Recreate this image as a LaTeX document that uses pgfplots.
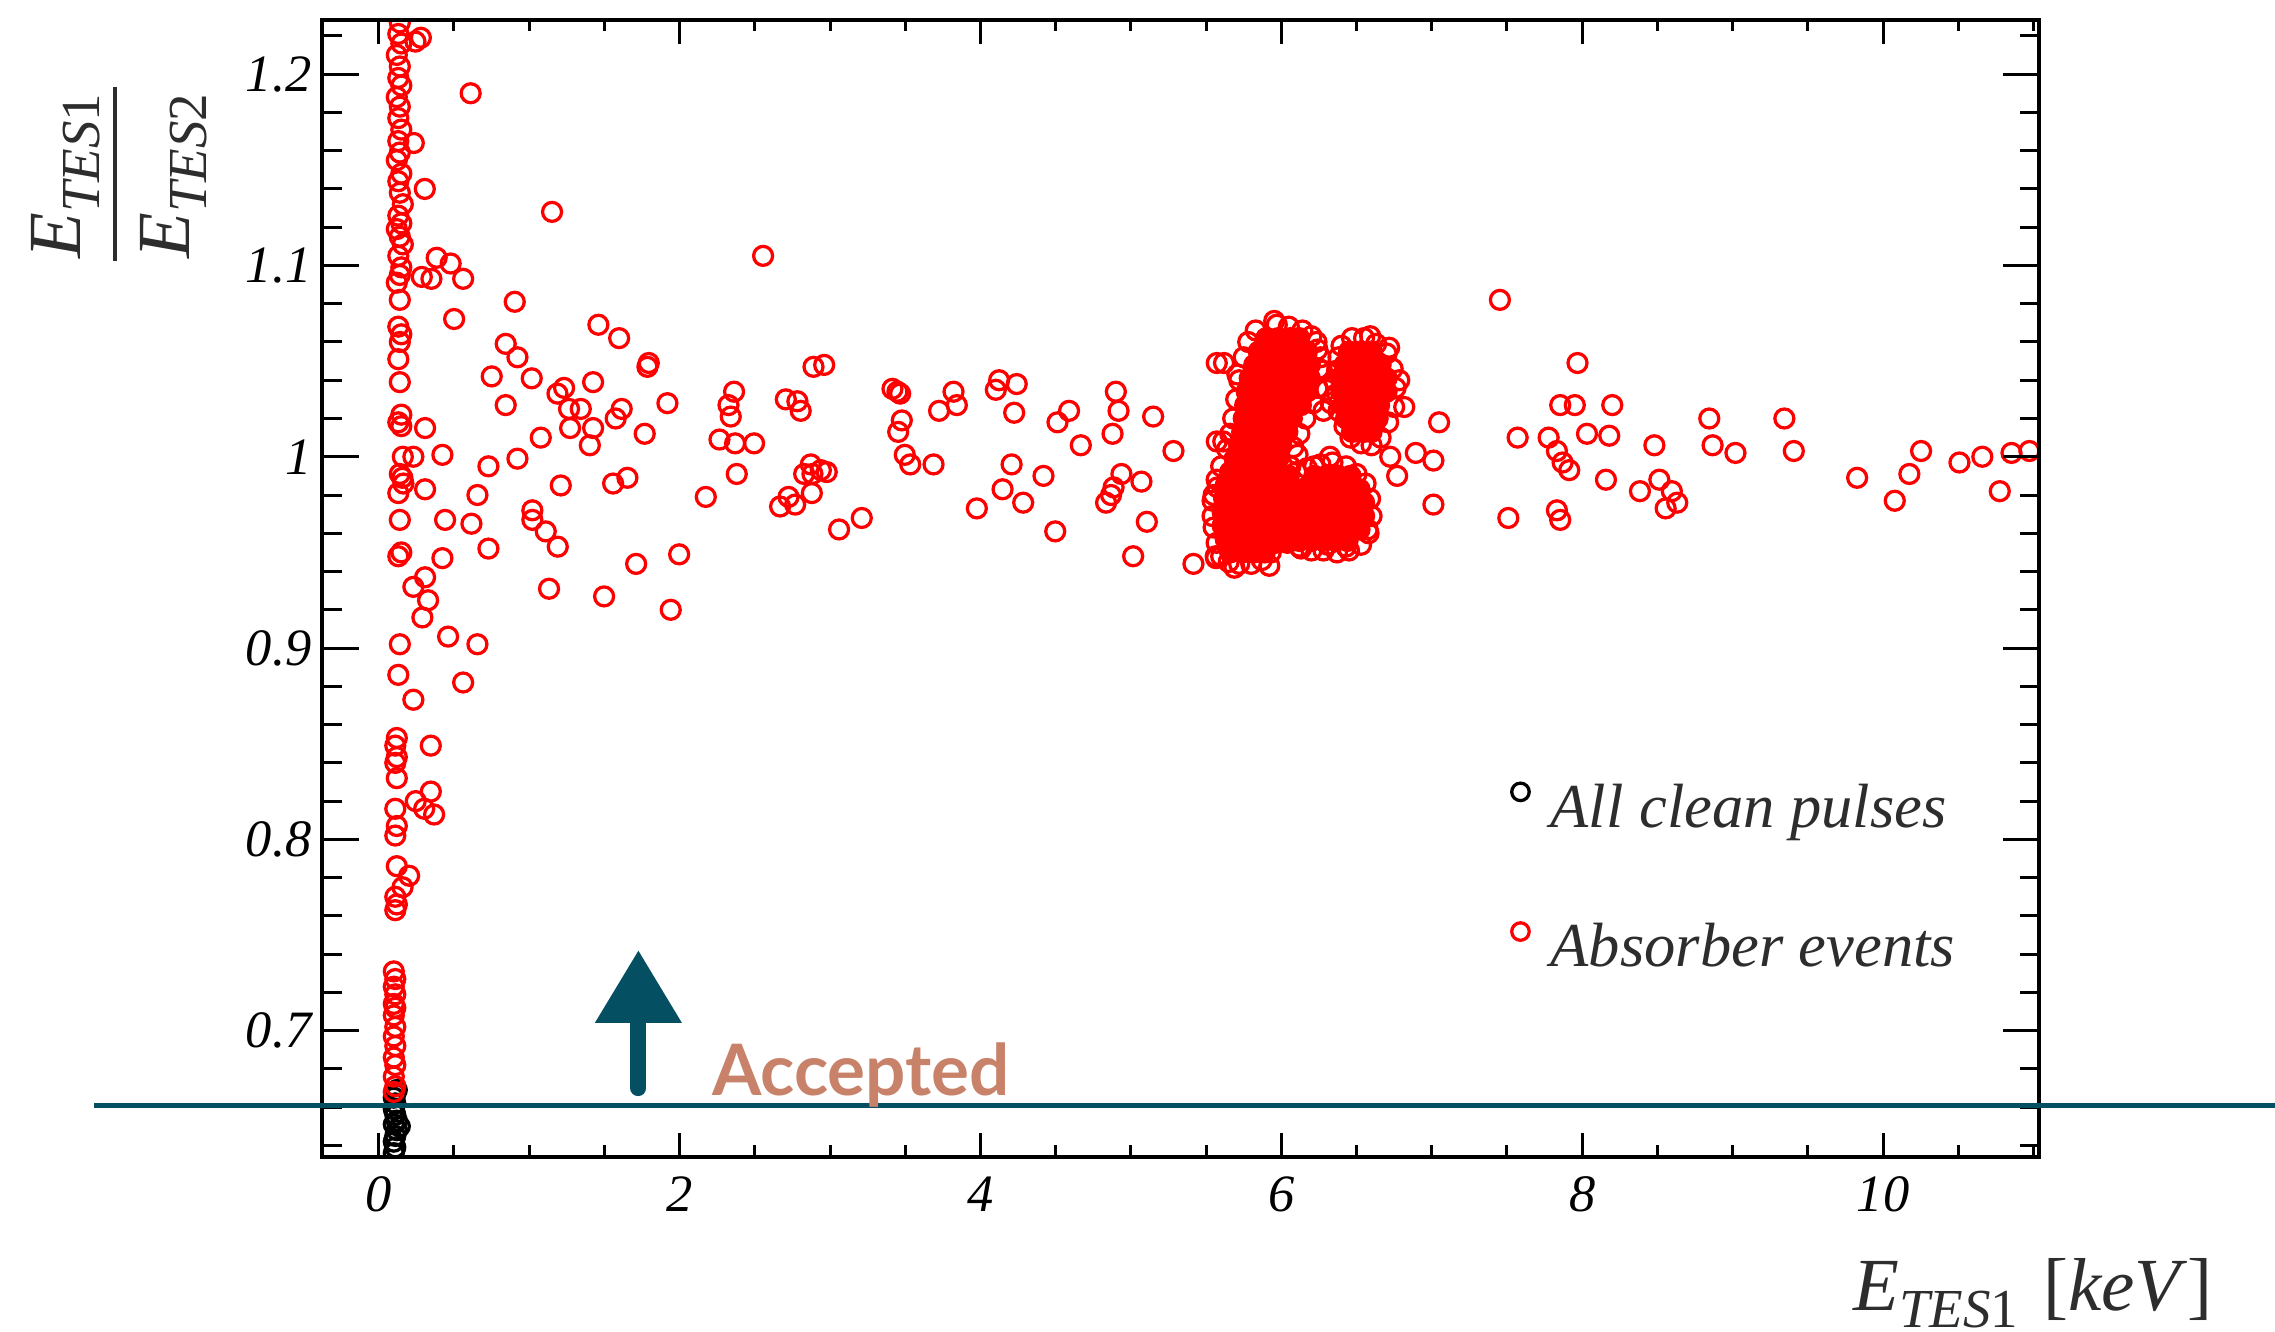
\documentclass[border=0pt]{standalone}
\usepackage{fontspec}
\setmainfont{Liberation Serif}
\newfontfamily\accfont{Lato}
\usepackage{pgfplots}
\pgfplotsset{compat=1.18}
\usetikzlibrary{arrows.meta}
\definecolor{tealline}{RGB}{4,79,98}
\definecolor{accclr}{RGB}{200,130,106}
\definecolor{labgray}{RGB}{45,45,45}
\begin{document}
\begin{tikzpicture}
\pgfplotsset{
  base/.style={
    scale only axis, width=343.3pt, height=227.4pt,
    xmin=-0.374, xmax=11.037, ymin=0.634, ymax=1.2283,
    at={(0,0)}, anchor=south west,
    axis line style={line width=0.8pt, black},
    tick align=inside, tick pos=both,
    every tick/.style={black, line width=0.6pt},
  }
}
\begin{axis}[base,
  xtick={0,2,4,6,8,10}, xticklabels={0,2,4,6,8,10},
  minor xtick={0.5,1,1.5,2.5,3,3.5,4.5,5,5.5,6.5,7,7.5,8.5,9,9.5,10.5,11},
  major tick length=4.8pt, minor tick length=2.3pt,
  ytick=\empty,
  xticklabel style={font=\fontsize{10.5}{12}\selectfont\itshape, inner sep=0pt, anchor=north, yshift=-3.7pt},
  clip marker paths=true,
  legend style={draw=none, fill=none, at={(axis cs:7.525,0.7794)}, anchor=west, inner sep=0pt,
    row sep=17.6pt, column sep=4.3pt, font=\fontsize{12.5}{15}\selectfont\itshape, text=labgray,
    nodes={inner sep=0pt}},
  legend cell align=left,
  legend image code/.code={\draw[mark repeat=1,mark phase=1,#1, mark size=1.75pt] plot coordinates {(0pt,3.5pt)};},
]
\addplot[only marks, mark=o, mark size=1.9pt, black, mark options={line width=0.65pt}] coordinates {
(0.10,0.636)(0.11,0.639)(0.10,0.642)(0.11,0.645)(0.12,0.648)(0.14,0.650)(0.10,0.651)(0.12,0.653)(0.11,0.656)(0.10,0.659)(0.11,0.662)(0.10,0.665)(0.11,0.667)(0.12,0.669)
};
\addlegendentry{All clean pulses}
\addplot[only marks, mark=*, mark size=1.9pt, red, mark options={fill=red, line width=0.65pt}, forget plot] coordinates {
(5.90,1.062)(5.98,1.062)(6.06,1.062)(6.12,1.062)
(5.85,1.055)(5.93,1.055)(6.01,1.055)(6.09,1.055)(6.17,1.055)
(5.82,1.048)(5.90,1.048)(5.98,1.048)(6.06,1.048)(6.14,1.048)(6.19,1.048)
(5.79,1.041)(5.87,1.041)(5.95,1.041)(6.03,1.041)(6.11,1.041)(6.19,1.041)
(5.77,1.034)(5.85,1.034)(5.93,1.034)(6.01,1.034)(6.09,1.034)(6.17,1.034)
(5.76,1.027)(5.84,1.027)(5.92,1.027)(6.00,1.027)(6.08,1.027)(6.13,1.027)
(5.75,1.020)(5.83,1.020)(5.91,1.020)(5.99,1.020)(6.07,1.020)
(5.74,1.013)(5.82,1.013)(5.90,1.013)(5.98,1.013)(6.04,1.013)
(5.72,1.006)(5.80,1.006)(5.88,1.006)(5.96,1.006)(6.00,1.006)
(5.69,0.999)(5.77,0.999)(5.85,0.999)(5.93,0.999)(5.98,0.999)
(5.66,0.992)(5.74,0.992)(5.82,0.992)(5.90,0.992)(5.97,0.992)
(5.63,0.985)(5.71,0.985)(5.79,0.985)(5.87,0.985)(5.95,0.985)
(5.62,0.978)(5.70,0.978)(5.78,0.978)(5.86,0.978)(5.94,0.978)
(5.61,0.971)(5.69,0.971)(5.77,0.971)(5.85,0.971)(5.93,0.971)
(5.61,0.964)(5.69,0.964)(5.77,0.964)(5.85,0.964)(5.92,0.964)
(5.63,0.957)(5.71,0.957)(5.79,0.957)(5.87,0.957)(5.91,0.957)
(5.66,0.950)(5.74,0.950)(5.82,0.950)(5.89,0.950)
(6.00,0.990)(6.05,0.990)(6.00,0.983)(6.06,0.983)(6.00,0.976)(6.05,0.976)(5.98,0.969)(5.98,0.962)(5.96,0.955)(6.04,0.955)
(6.45,1.055)(6.53,1.055)(6.60,1.055)
(6.42,1.048)(6.50,1.048)(6.58,1.048)(6.66,1.048)
(6.40,1.041)(6.48,1.041)(6.56,1.041)(6.64,1.041)(6.70,1.041)
(6.40,1.034)(6.48,1.034)(6.56,1.034)(6.64,1.034)(6.70,1.034)
(6.41,1.027)(6.49,1.027)(6.57,1.027)(6.65,1.027)
(6.43,1.020)(6.51,1.020)(6.59,1.020)(6.64,1.020)
(6.47,1.013)(6.55,1.013)(6.60,1.013)
(6.22,0.990)(6.30,0.990)(6.38,0.990)(6.46,0.990)
(6.14,0.983)(6.22,0.983)(6.30,0.983)(6.38,0.983)(6.46,0.983)(6.52,0.983)
(6.10,0.976)(6.18,0.976)(6.26,0.976)(6.34,0.976)(6.42,0.976)(6.50,0.976)(6.55,0.976)
(6.04,0.969)(6.08,0.969)(6.16,0.969)(6.24,0.969)(6.32,0.969)(6.40,0.969)(6.48,0.969)(6.55,0.969)
(6.02,0.962)(6.06,0.962)(6.14,0.962)(6.22,0.962)(6.30,0.962)(6.38,0.962)(6.46,0.962)(6.52,0.962)
(6.12,0.956)(6.20,0.956)(6.28,0.956)(6.36,0.956)(6.44,0.956)
};
\addplot[only marks, mark=o, mark size=1.9pt, red, mark options={line width=0.65pt}] coordinates {
(0.14,1.227)(0.13,1.221)(0.15,1.216)(0.12,1.210)(0.14,1.204)(0.13,1.198)(0.15,1.194)(0.12,1.188)(0.14,1.183)(0.13,1.177)(0.15,1.171)(0.13,1.165)(0.14,1.159)(0.12,1.155)(0.15,1.148)(0.13,1.144)(0.14,1.138)(0.16,1.132)(0.13,1.126)(0.15,1.122)(0.12,1.119)(0.14,1.115)(0.16,1.111)(0.13,1.105)(0.15,1.099)(0.14,1.095)(0.12,1.091)(0.14,1.082)(0.13,1.068)(0.15,1.064)(0.14,1.060)(0.13,1.051)(0.14,1.039)(0.15,1.022)(0.13,1.018)(0.14,0.991)(0.13,0.981)(0.14,0.967)(0.15,0.950)(0.13,0.948)(0.14,0.902)(0.13,0.886)(0.12,0.853)(0.11,0.849)(0.12,0.843)(0.11,0.840)(0.12,0.832)(0.11,0.816)(0.12,0.807)(0.11,0.802)(0.12,0.786)(0.11,0.770)(0.12,0.766)(0.11,0.763)(0.10,0.731)(0.11,0.727)(0.10,0.723)(0.11,0.719)(0.10,0.714)(0.11,0.712)(0.10,0.708)(0.11,0.702)(0.10,0.697)(0.11,0.692)(0.10,0.686)(0.11,0.682)(0.10,0.676)(0.11,0.671)(0.10,0.668)
(0.157,0.989)(0.164,0.986)(0.16,1.000)(0.15,1.016)
(0.244,1.217)(0.28,1.219)(0.611,1.19)(0.233,1.164)(0.306,1.140)(1.152,1.128)(2.555,1.105)(0.385,1.104)(0.478,1.101)(0.286,1.094)(0.350,1.093)(0.561,1.093)(0.904,1.081)(0.501,1.072)(1.460,1.069)(1.598,1.062)(1.786,1.047)(1.795,1.049)(0.844,1.059)(0.922,1.052)(0.751,1.042)(1.017,1.041)(1.425,1.039)(2.890,1.047)(2.961,1.048)(1.232,1.036)(1.188,1.033)(2.362,1.034)(1.919,1.028)(2.706,1.030)(2.783,1.029)(2.805,1.024)(2.325,1.027)(2.340,1.021)(0.844,1.027)(1.265,1.025)(1.343,1.025)(1.615,1.025)(1.575,1.020)(1.272,1.015)(1.425,1.015)(1.403,1.006)(1.768,1.012)(1.077,1.010)(0.308,1.015)(2.265,1.009)(2.369,1.007)(2.495,1.007)(0.230,1.000)(0.423,1.001)(0.922,0.999)(0.729,0.995)(2.380,0.991)(2.872,0.996)(2.939,0.993)(2.828,0.991)(2.883,0.991)(2.978,0.992)(0.308,0.983)(1.210,0.985)(1.558,0.986)(1.653,0.989)(0.656,0.980)(2.174,0.979)(2.879,0.981)(2.724,0.979)(2.668,0.974)(2.768,0.975)(1.021,0.972)(0.441,0.967)(0.616,0.965)(1.021,0.967)(1.110,0.961)(3.060,0.962)(1.190,0.953)(0.729,0.952)(0.423,0.947)(1.997,0.949)(1.711,0.944)(0.308,0.937)(0.230,0.932)(1.132,0.931)(1.498,0.927)(0.328,0.925)(1.941,0.920)(0.290,0.916)(0.461,0.906)(0.656,0.902)(0.561,0.882)(0.230,0.873)(0.346,0.849)(0.346,0.825)(0.246,0.820)(0.302,0.816)(0.368,0.813)(0.202,0.781)(0.158,0.775)
(3.211,0.968)(3.415,1.0355)(3.448,1.034)(3.466,1.033)(3.477,1.019)(3.453,1.013)(3.497,1.001)(3.533,0.996)(3.688,0.996)(3.725,1.024)(3.821,1.034)(3.843,1.027)(3.976,0.973)(4.124,1.040)(4.102,1.035)(4.241,1.038)(4.224,1.023)(4.207,0.996)(4.147,0.983)(4.284,0.976)(4.419,0.990)(4.497,0.961)(4.512,1.018)(4.589,1.024)(4.667,1.006)(4.900,1.034)(4.918,1.024)(4.878,1.012)(4.937,0.991)(5.070,0.987)(4.885,0.984)(4.868,0.980)(4.835,0.976)(5.106,0.966)(5.015,0.948)(5.148,1.021)(5.283,1.003)(5.416,0.944)(5.571,1.049)(5.571,1.008)(5.564,0.948)
(5.953,1.071)(5.619,1.049)(5.708,1.043)(5.614,1.008)(5.566,0.947)(5.688,0.942)(5.92,0.943)(5.576,0.984)(5.543,0.977)(5.543,0.969)(6.131,0.952)(6.142,0.957)(6.308,0.954)(6.43,0.953)(6.574,0.962)(6.323,1.0)(6.218,0.995)(6.108,1.001)(6.234,1.060)
(5.83,1.066)(5.78,1.060)(5.75,1.052)(5.72,1.040)(5.70,1.030)(5.68,1.020)(5.66,1.012)(5.64,1.004)(5.60,0.995)(5.57,0.988)(5.55,0.980)(5.55,0.963)(5.57,0.955)(5.60,0.948)(5.65,0.945)(5.72,0.944)(5.80,0.944)(5.87,0.946)(5.93,0.950)(5.97,0.958)(6.00,0.966)(6.03,0.975)(6.05,0.985)(6.06,0.995)(6.08,1.005)(6.12,1.012)(6.16,1.020)(6.21,1.028)(6.24,1.036)(6.25,1.046)(6.24,1.056)(6.20,1.063)(6.14,1.066)(6.05,1.068)(5.97,1.069)
(6.40,1.058)(6.47,1.062)(6.55,1.062)(6.63,1.059)(6.70,1.054)(6.74,1.046)(6.76,1.036)(6.75,1.026)(6.71,1.018)(6.66,1.010)(6.60,1.006)(6.53,1.007)(6.46,1.010)(6.42,1.016)(6.38,1.024)(6.37,1.033)(6.37,1.045)(6.38,1.052)
(6.10,0.992)(6.17,0.994)(6.26,0.996)(6.34,0.997)(6.43,0.995)(6.50,0.991)(6.56,0.986)(6.59,0.978)(6.60,0.969)(6.58,0.960)(6.53,0.954)(6.45,0.951)(6.37,0.950)(6.28,0.951)(6.20,0.951)(6.12,0.953)(6.06,0.957)(6.03,0.968)
(6.27,1.045)(6.30,1.035)(6.33,1.028)(6.28,1.024)(6.35,1.040)(6.26,1.052)
(7.049,1.018)(7.011,0.998)(6.894,1.002)(7.011,0.975)(6.77,0.990)(6.724,1.0)(6.817,1.026)(6.784,1.040)(6.717,1.057)(6.591,1.063)(7.453,1.082)(7.969,1.049)(7.854,1.027)(7.951,1.027)(8.2,1.027)(7.571,1.010)(7.777,1.010)(7.832,1.003)(7.870,0.997)(7.914,0.993)(8.032,1.012)(8.18,1.011)(8.158,0.988)(7.509,0.968)(7.832,0.972)(7.854,0.967)(8.384,0.982)(8.48,1.006)(8.513,0.988)(8.596,0.982)(8.632,0.976)(8.555,0.973)(8.845,1.020)(8.867,1.006)(9.019,1.002)(9.344,1.020)(9.407,1.003)(9.828,0.989)(10.078,0.977)(10.175,0.991)(10.253,1.003)(10.508,0.997)(10.66,1.0)(10.776,0.982)(10.854,1.002)(10.973,1.003)
};
\addlegendentry{Absorber events}
\end{axis}
\begin{axis}[base,
  xtick=\empty,
  ytick={0.7,0.8,0.9,1,1.1,1.2}, yticklabels={0.7,0.8,0.9,1,1.1,1.2},
  minor ytick={0.64,0.66,0.68,0.72,0.74,0.76,0.78,0.82,0.84,0.86,0.88,0.92,0.94,0.96,0.98,1.02,1.04,1.06,1.08,1.12,1.14,1.16,1.18,1.22},
  major tick length=7.3pt, minor tick length=3.9pt,
  yticklabel style={font=\fontsize{10.5}{12}\selectfont\itshape, inner sep=0pt, anchor=east, xshift=-2pt},
  clip=false,
]
\draw[tealline, line width=1.1pt] (axis cs:-1.891,0.6609) -- (axis cs:12.61,0.6609);
\draw[tealline, line width=3.2pt, line cap=round, -{Triangle[width=16.5pt,length=14.6pt]}] (axis cs:1.726,0.670) -- (axis cs:1.726,0.7422);
\node[anchor=base west, text=accclr, inner sep=0pt, font=\accfont\bfseries\fontsize{14.2}{16}\selectfont] at (axis cs:2.209,0.6661) {Accepted};
\node[anchor=base east, inner sep=0pt, text=labgray] at (axis cs:12.2,0.554) {\fontsize{15}{18}\selectfont\textit{E}\raisebox{-3.4pt}{\fontsize{11}{13}\selectfont\textit{TES}1}\hspace{5pt}[\textit{keV}]};
\draw[labgray, line width=0.8pt] (axis cs:-1.754,1.1024) -- (axis cs:-1.754,1.1933);
\node[rotate=90, anchor=base, inner sep=0pt, text=labgray] at (axis cs:-1.986,1.1466) {\fontsize{15}{18}\selectfont\textit{E}\raisebox{-3.8pt}{\fontsize{11}{13}\selectfont\textit{TES}1}};
\node[rotate=90, anchor=base, inner sep=0pt, text=labgray] at (axis cs:-1.255,1.1466) {\fontsize{15}{18}\selectfont\textit{E}\raisebox{-3.4pt}{\fontsize{11}{13}\selectfont\textit{TES}2}};
\end{axis}
\pgfresetboundingbox
\useasboundingbox (-64.5pt,-35pt) rectangle (390.5pt,231.4pt);
\end{tikzpicture}
\end{document}
